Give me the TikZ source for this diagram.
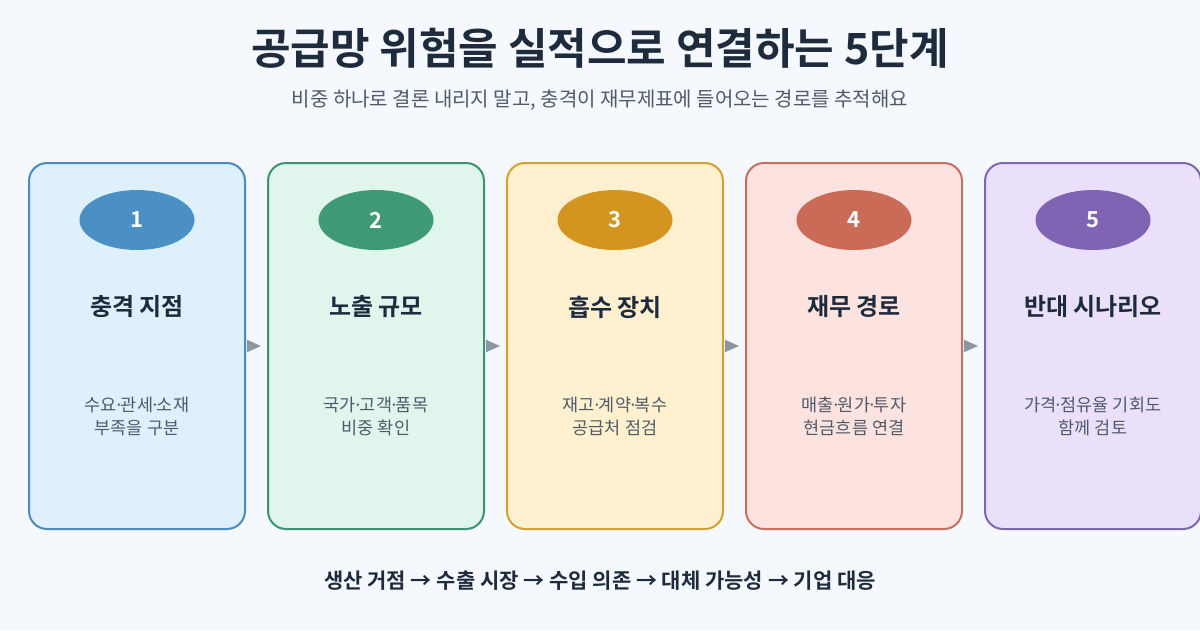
\documentclass[tikz,border=0pt]{standalone}
\usepackage{fontspec}
\setmainfont{Noto Sans CJK KR}[BoldFont={Noto Sans CJK KR Bold}]
\usetikzlibrary{shapes.geometric,arrows.meta}
\definecolor{bgc}{HTML}{F5F8FC}
\definecolor{ink}{HTML}{1E2B3C}
\definecolor{sub}{HTML}{4F5B69}
\definecolor{arrc}{HTML}{8C96A3}
\definecolor{fa}{HTML}{DFF0FD}\definecolor{ba}{HTML}{4A8CC0}\definecolor{ea}{HTML}{4A90C4}
\definecolor{fb}{HTML}{E0F5EC}\definecolor{bb}{HTML}{3D9470}\definecolor{eb}{HTML}{3D9A74}
\definecolor{fc}{HTML}{FFF1D0}\definecolor{bc}{HTML}{D4A030}\definecolor{ec}{HTML}{D49520}
\definecolor{fd}{HTML}{FDE3DF}\definecolor{bd}{HTML}{C87060}\definecolor{ed}{HTML}{C96B57}
\definecolor{fe}{HTML}{EBE0FB}\definecolor{be}{HTML}{8068B0}\definecolor{ee}{HTML}{7E64B2}
\newcommand{\md}{\kern-3pt·\kern-3pt}
\tikzset{
  card/.style={draw, line width=2pt, rounded corners=18pt, minimum width=216pt, minimum height=366pt, inner sep=0pt},
  badge/.style={ellipse, minimum width=115pt, minimum height=60pt, inner sep=0pt, text=white, font=\fontsize{22}{26}\selectfont\bfseries},
  cardtitle/.style={text=ink, font=\fontsize{24}{28}\selectfont\bfseries, inner sep=0pt},
  carddesc/.style={text=sub, font=\fontsize{17.5}{23}\selectfont, align=center, inner sep=0pt},
  flow/.style={draw=arrc, line width=1.5pt, -{Triangle[length=14pt,width=12pt]}}
}
\begin{document}
\begin{tikzpicture}[x=1pt,y=-1pt]
\fill[bgc] (0,0) rectangle (1200,630);
\useasboundingbox (0,0) rectangle (1200,630);
\node[text=ink, font=\fontsize{43}{48}\selectfont\bfseries, inner sep=0pt] (title) at (600,48) {공급망 위험을 실적으로 연결하는 5단계};
\node[text=sub, font=\fontsize{20}{24}\selectfont, inner sep=0pt] (subtitle) at (600,100) {비중 하나로 결론 내리지 말고, 충격이 재무제표에 들어오는 경로를 추적해요};
\foreach \i/\x/\f/\b/\e/\n/\t/\da/\db in {
  1/137/fa/ba/ea/1/충격 지점/수요\md 관세\md 소재/부족을 구분,
  2/376/fb/bb/eb/2/노출 규모/국가\md 고객\md 품목/비중 확인,
  3/615/fc/bc/ec/3/흡수 장치/재고\md 계약\md 복수/공급처 점검,
  4/854/fd/bd/ed/4/재무 경로/매출\md 원가\md 투자/현금흐름 연결,
  5/1093/fe/be/ee/5/반대 시나리오/가격\md 점유율 기회도/함께 검토}{
  \node[card, draw=\b, fill=\f] (b\i) at (\x,346) {};
  \node[badge, fill=\e] (n\i) at (\x,220) {\n};
  \node[cardtitle] (t\i) at (\x,307) {\t};
  \node[carddesc] (d\i) at (\x,416) {\da\\\db};
}
\foreach \i/\j in {1/2,2/3,3/4,4/5}{
  \draw[flow] ([xshift=3pt]b\i.east) -- ([xshift=-6pt]b\j.west);
}
\node[text=ink, font=\fontsize{21}{25}\selectfont\bfseries, inner sep=0pt] (flowline) at (600,581) {생산 거점 → 수출 시장 → 수입 의존 → 대체 가능성 → 기업 대응};
\end{tikzpicture}
\end{document}
